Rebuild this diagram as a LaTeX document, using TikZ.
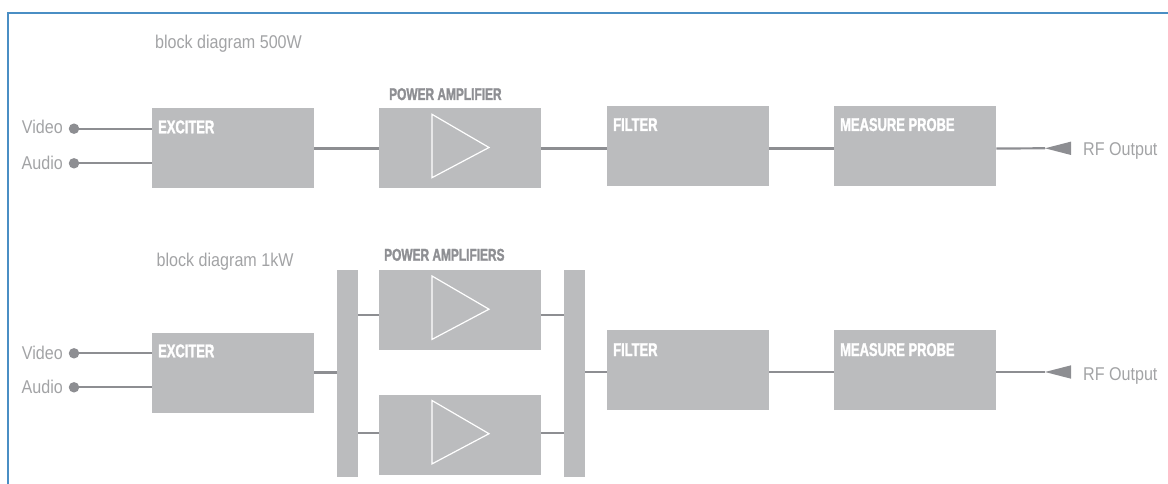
\documentclass[tikz,border=0pt]{standalone}
\usepackage{fontspec}
\setmainfont{Liberation Sans}
\newfontfamily\lightfont[FakeStretch=0.87]{Liberation Sans}
\newfontfamily\headfont[FakeStretch=0.70, FakeBold=1.6]{Liberation Sans}
\usepackage{tikz}
\usetikzlibrary{positioning, arrows.meta}

\definecolor{boxgrey}{HTML}{BBBCBE}
\definecolor{wiregrey}{HTML}{8D8E92}
\definecolor{textgrey}{HTML}{A2A3A5}
\definecolor{headgrey}{HTML}{8E8F93}
\definecolor{framecol}{HTML}{4A8EC4}

% amplifier symbol inside a block
\newcommand{\amptri}[1]{%
  \draw[tri] ([shift={(53,6)}]#1.north west) -- ([shift={(110,-1)}]#1.west)
    -- ([shift={(53,-11)}]#1.south west) -- cycle;}

\begin{document}
\begin{tikzpicture}[x=1pt, y=-1pt,
    block/.style={fill=boxgrey, inner sep=0pt, minimum width=162pt, minimum height=80pt, anchor=north west},
    bar/.style={fill=boxgrey, inner sep=0pt, minimum width=21pt, minimum height=207pt, anchor=north west},
    wire/.style={draw=wiregrey, line width=2.2pt},
    tri/.style={draw=white, line width=1.2pt, line join=miter},
    dot/.style={circle, fill=wiregrey, inner sep=0pt, minimum size=10.5pt},
    inlabel/.style={text=textgrey, font=\lightfont\fontsize{18.5}{20}\selectfont, inner sep=0pt, anchor=base west},
    blocklabel/.style={text=white, font=\headfont\bfseries\fontsize{18.5}{20}\selectfont, inner sep=0pt, anchor=base west},
    headlabel/.style={text=headgrey, font=\headfont\bfseries\fontsize{17}{19}\selectfont, inner sep=0pt, anchor=base west}]
    \useasboundingbox (0,0) rectangle (1168,484);

    % Draw the frame
    \draw[framecol, line width=1.8pt] (7.7,484) -- (7.7,12.7) -- (1168,12.7);

    % 500W chain
    \node[inlabel] (ttl1) at (155,48.3) {block diagram 500W};
    \node[block] (exc1) at (152,108.3) {};
    \node[block] (pa1) at (379,108.3) {};
    \node[block] (flt1) at (607,106) {};
    \node[block] (prb1) at (834,106) {};
    \node[blocklabel] (lexc1) at ([shift={(6,25)}]exc1.north west) {EXCITER};
    \node[headlabel] (lpa1) at ([shift={(10,-8.3)}]pa1.north west) {POWER AMPLIFIER};
    \node[blocklabel] (lflt1) at ([shift={(6,25)}]flt1.north west) {FILTER};
    \node[blocklabel] (lprb1) at ([shift={(6,25)}]prb1.north west) {MEASURE PROBE};
    \amptri{pa1}

    \node[inlabel, anchor=base east] (lvid1) at (63,134) {Video};
    \node[dot] (vid1) at (74,128.7) {};
    \node[inlabel, anchor=base east] (laud1) at (63,169.5) {Audio};
    \node[dot] (aud1) at (74,163.3) {};
    \draw[wire] (vid1) -- (vid1 -| exc1.west);
    \draw[wire] (aud1) -- (aud1 -| exc1.west);

    \coordinate (rf1) at (1045,148.3);
    \draw[wire] (exc1.east) -- (pa1.west);
    \draw[wire] (pa1.east) -- (pa1.east -| flt1.west);
    \draw[wire] (pa1.east -| flt1.east) -- (pa1.east -| prb1.west);
    \draw[wire] (pa1.east -| prb1.east) -- (rf1);
    \fill[wiregrey] (rf1) -- ++(26,-6.7) -- ++(0,13.4) -- cycle;
    \node[inlabel] (lrf1) at (1083,156) {RF Output};

    % 1kW chain
    \node[inlabel] (ttl2) at (156.5,266.7) {block diagram 1kW};
    \node[block] (exc2) at (152,332.3) {};
    \node[bar] (bar1) at (337,269.3) {};
    \node[block] (pa2a) at (379,270) {};
    \node[block] (pa2b) at (379,394.5) {};
    \node[bar] (bar2) at (564,269.3) {};
    \node[block] (flt2) at (607,330) {};
    \node[block] (prb2) at (834,330) {};
    \node[blocklabel] (lexc2) at ([shift={(6,25)}]exc2.north west) {EXCITER};
    \node[headlabel] (lpa2) at ([shift={(5,-9.3)}]pa2a.north west) {POWER AMPLIFIERS};
    \node[blocklabel] (lflt2) at ([shift={(6,26)}]flt2.north west) {FILTER};
    \node[blocklabel] (lprb2) at ([shift={(6,26)}]prb2.north west) {MEASURE PROBE};
    \amptri{pa2a}
    \amptri{pa2b}

    \node[inlabel, anchor=base east] (lvid2) at (63,359.5) {Video};
    \node[dot] (vid2) at (74,353.3) {};
    \node[inlabel, anchor=base east] (laud2) at (63,393.8) {Audio};
    \node[dot] (aud2) at (74,387.3) {};
    \draw[wire] (vid2) -- (vid2 -| exc2.west);
    \draw[wire] (aud2) -- (aud2 -| exc2.west);

    \coordinate (rf2) at (1045,372);
    \draw[wire] (exc2.east) -- (exc2.east -| bar1.west);
    \draw[wire] ([yshift=-5pt]pa2a.west -| bar1.east) -- ([yshift=-5pt]pa2a.west);
    \draw[wire] ([yshift=1.8pt]pa2b.west -| bar1.east) -- ([yshift=1.8pt]pa2b.west);
    \draw[wire] ([yshift=-5pt]pa2a.east) -- ([yshift=-5pt]pa2a.east -| bar2.west);
    \draw[wire] ([yshift=1.8pt]pa2b.east) -- ([yshift=1.8pt]pa2b.east -| bar2.west);
    \draw[wire] (rf2 -| bar2.east) -- (rf2 -| flt2.west);
    \draw[wire] (rf2 -| flt2.east) -- (rf2 -| prb2.west);
    \draw[wire] (rf2 -| prb2.east) -- (rf2);
    \fill[wiregrey] (rf2) -- ++(26,-6.7) -- ++(0,13.4) -- cycle;
    \node[inlabel] (lrf2) at (1083,380) {RF Output};
\end{tikzpicture}
\end{document}
